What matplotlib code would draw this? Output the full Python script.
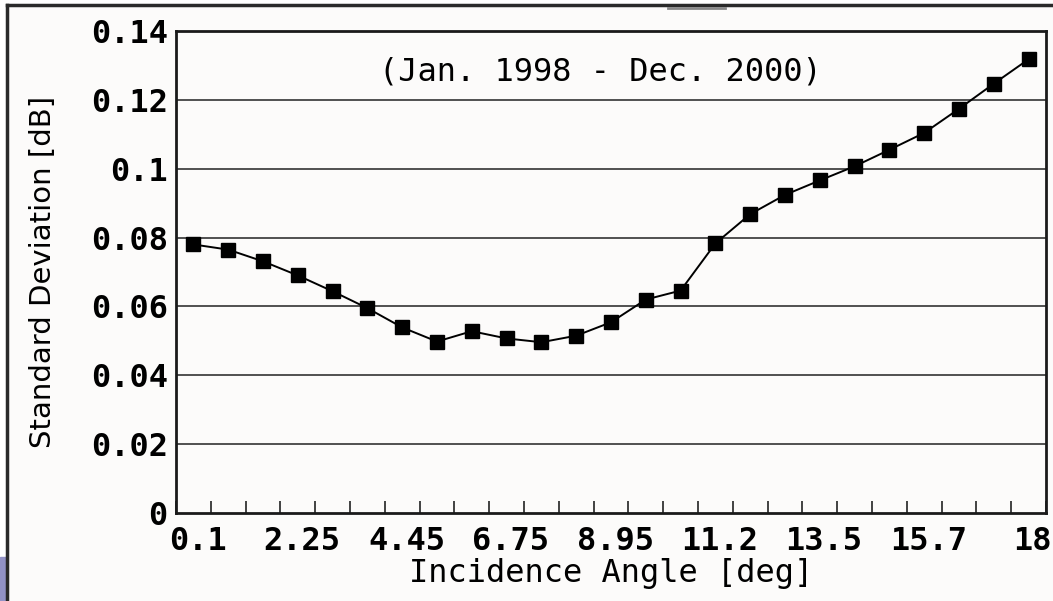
import numpy as np
import matplotlib
matplotlib.use("Agg")
import matplotlib.pyplot as plt
from matplotlib.lines import Line2D
from matplotlib.patches import Rectangle

# 25 incidence-angle bins, every third one labelled
std_dev = [0.0780, 0.0765, 0.0731, 0.0690, 0.0644, 0.0595, 0.0539, 0.0498,
           0.0528, 0.0507, 0.0496, 0.0515, 0.0554, 0.0620, 0.0646, 0.0783,
           0.0868, 0.0924, 0.0966, 0.1007, 0.1055, 0.1104, 0.1174, 0.1247,
           0.1318]
tick_labels = ["0.1", "2.25", "4.45", "6.75", "8.95", "11.2", "13.5", "15.7", "18"]
y_ticks = [0, 0.02, 0.04, 0.06, 0.08, 0.1, 0.12, 0.14]
y_labels = ["0", "0.02", "0.04", "0.06", "0.08", "0.1", "0.12", "0.14"]

mono = "DejaVu Sans Mono"
bg = "#fcfbfa"
fig = plt.figure(figsize=(10.53, 6.01), dpi=100, facecolor=bg)
W, H = 1053.0, 601.0
ax = fig.add_axes([176/W, 1-513/H, (1046-176)/W, (513-31)/H])
ax.set_facecolor(bg)

n = len(std_dev)
x = np.arange(n)
ax.plot(x, std_dev, color="black", lw=1.4, marker="s", ms=9.5, mfc="black", mec="black", zorder=3)

ax.set_xlim(-0.5, n - 0.5)
ax.set_ylim(0, 0.14)
ax.set_yticks(y_ticks)
ax.set_yticklabels(y_labels, family=mono, weight="bold")
ax.set_xticks(x[::3] + 0.12)
ax.set_xticklabels(tick_labels, family=mono, weight="bold")
ax.set_xticks(np.arange(-0.5, n, 1.0), minor=True)
ax.tick_params(axis="x", which="major", length=0, pad=9, labelsize=23)
ax.tick_params(axis="x", which="minor", direction="in", length=9, width=1.2, color="#222222")
ax.tick_params(axis="y", length=0, pad=6, labelsize=23)

for yv in y_ticks[1:-1]:
    ax.axhline(yv, color="#505050", lw=1.4, zorder=1)
for s in ax.spines.values():
    s.set_linewidth(2)
    s.set_color("#1a1a1a")

ax.set_xlabel("Incidence Angle [deg]", fontsize=23, family=mono, labelpad=1)
ax.set_ylabel("Standard Deviation [dB]", fontsize=21, labelpad=24)
ax.text(0.488, 0.915, "(Jan. 1998 - Dec. 2000)", transform=ax.transAxes,
        ha="center", va="center", fontsize=23, family=mono)

# outer frame of the screenshot
fig.add_artist(Rectangle((0, 0), 1, 1, transform=fig.transFigure, color="white", zorder=-3))
fig.add_artist(Rectangle((7/W, 0), 1, 1-5/H, transform=fig.transFigure, color=bg, zorder=-2))
fig.add_artist(Line2D([7/W, 7/W], [0, 1-5/H], transform=fig.transFigure, color="#2a2a2a", lw=2.5))
fig.add_artist(Line2D([7/W, 1], [1-5/H, 1-5/H], transform=fig.transFigure, color="#2a2a2a", lw=2.5))
fig.add_artist(Line2D([668/W, 725/W], [1-7.5/H, 1-7.5/H], transform=fig.transFigure, color="#888888", lw=2))
fig.add_artist(Rectangle((0, 0), 6/W, 44/H, transform=fig.transFigure, color="#9292c6"))

fig.savefig("out.png", dpi=100, facecolor=fig.get_facecolor())
